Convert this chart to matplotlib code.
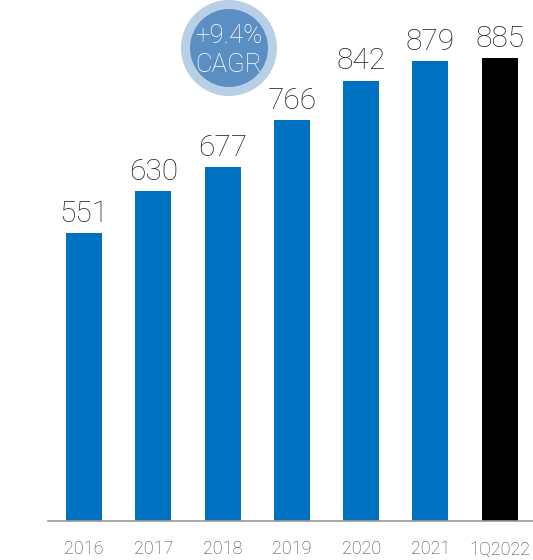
import matplotlib.pyplot as plt
from matplotlib.patches import Circle

years = ["2016", "2017", "2018", "2019", "2020", "2021", "1Q2022"]
values = [551, 630, 677, 766, 842, 879, 885]
colors = ["#0070c0"] * 6 + ["#000000"]

FONT = "Roboto"
W, H = 533, 560
fig = plt.figure(figsize=(W / 100, H / 100), dpi=100)
ax = fig.add_axes([48 / W, 1 - 521 / H, 1 - 48 / W, 521 / H])
x = range(len(years))
ax.bar(x, values, width=0.52, color=colors, zorder=2)
ax.set_xlim(-0.52, 6.48)
ax.set_ylim(0, 996)

for xi, v in zip(x, values):
    ax.text(xi, v + 10, str(v), ha="center", va="bottom", fontsize=21.5,
            color="#222222", family=FONT, fontweight="light")

ax.set_xticks(list(x))
ax.set_xticklabels(years, fontsize=13, color="#444444", family=FONT,
                   fontweight="light")
ax.tick_params(axis="x", length=0, pad=14)
ax.set_yticks([])
for s in ["top", "right", "left"]:
    ax.spines[s].set_visible(False)
ax.spines["bottom"].set_color("#999999")
ax.spines["bottom"].set_linewidth(1.2)

# CAGR badge (pixel coordinates)
bx, by = 229, H - 48
fig.patches.append(Circle((bx, by), 48, transform=None, facecolor="#b7d0e6",
                          edgecolor="none", zorder=5))
fig.patches.append(Circle((bx, by), 39, transform=None, facecolor="#5b8fc4",
                          edgecolor="none", zorder=6))
fig.text(bx / W, 1 - 36 / H, "+9.4%", ha="center", va="center",
         fontsize=18.5, color="white", family=FONT, fontweight="light", zorder=7)
fig.text(bx / W, 1 - 65 / H, "CAGR", ha="center", va="center",
         fontsize=18.5, color="white", family=FONT, fontweight="light", zorder=7)

fig.savefig("out.png", dpi=100)
